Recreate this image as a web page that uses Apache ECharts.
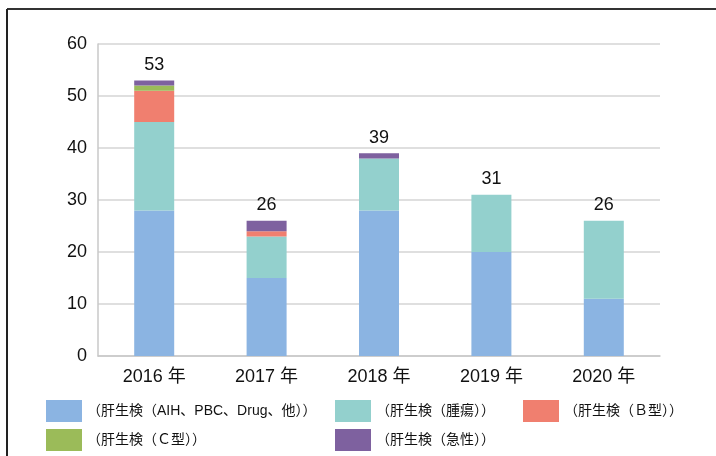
<!DOCTYPE html>
<html>
<head>
<meta charset="utf-8">
<script src="https://cdn.jsdelivr.net/npm/echarts@6/dist/echarts.min.js"></script>
<style>html,body{margin:0;padding:0;background:#fff}#c{width:716px;height:456px}</style>
</head>
<body>
<div id="c"></div>
<script>
const categories = ['2016 年', '2017 年', '2018 年', '2019 年', '2020 年'];
const seriesNames = ['（肝生検（AIH、PBC、Drug、他））', '（肝生検（腫瘍））', '（肝生検（Ｂ型））', '（肝生検（Ｃ型））', '（肝生検（急性））'];
const aihValues = [28, 15, 28, 20, 11];
const tumorValues = [17, 8, 10, 11, 15];
const hbvValues = [6, 1, 0, 0, 0];
const hcvValues = [1, 0, 0, 0, 0];
const acuteValues = [1, 2, 1, 0, 0];
const yTicks = [0, 10, 20, 30, 40, 50, 60];
const colors = ['#8BB4E2', '#93D0CD', '#F07F6F', '#9BBB59', '#7E619F'];

const allValues = [aihValues, tumorValues, hbvValues, hcvValues, acuteValues];
const totals = categories.map((_, i) => allValues.reduce((s, arr) => s + arr[i], 0));

const FONT = '"Liberation Sans", "Noto Sans CJK JP", sans-serif';
const chart = echarts.init(document.getElementById('c'));

const series = allValues.map((vals, k) => ({
  name: seriesNames[k],
  type: 'bar',
  stack: 'total',
  barWidth: 40,
  itemStyle: { color: colors[k] },
  data: vals
}));
series.push({
  name: 'total',
  type: 'scatter',
  data: totals,
  symbolSize: 1,
  itemStyle: { color: 'rgba(0,0,0,0)' },
  label: { show: true, position: 'top', distance: 6, fontSize: 18, color: '#111', fontFamily: FONT, opacity: 1 },
  silent: true,
  z: 10
});

function legendAt(left, names) {
  return {
    orient: 'vertical',
    left: left,
    top: 400,
    padding: 0,
    height: 56,
    itemWidth: 36,
    itemHeight: 22,
    itemGap: 7,
    icon: 'rect',
    selectedMode: false,
    textStyle: { fontSize: 14, color: '#111', fontFamily: FONT },
    data: names
  };
}

chart.setOption({
  animation: false,
  grid: { left: 98, right: 56, top: 44, bottom: 100 },
  xAxis: {
    type: 'category',
    data: categories,
    axisTick: { show: false },
    axisLine: { lineStyle: { color: '#c8c8c8', width: 1.5 } },
    axisLabel: { fontSize: 18, color: '#111', fontFamily: FONT, margin: 12 }
  },
  yAxis: {
    type: 'value',
    min: yTicks[0],
    max: yTicks[yTicks.length - 1],
    interval: 10,
    axisLine: { show: true, lineStyle: { color: '#c8c8c8', width: 1.5 } },
    axisTick: { show: false },
    splitLine: { lineStyle: { color: '#d4d4d4', width: 1.5 } },
    axisLabel: { fontSize: 18, color: '#111', fontFamily: FONT, margin: 11 }
  },
  legend: [
    legendAt(46, [seriesNames[0], seriesNames[3]]),
    legendAt(335, [seriesNames[1], seriesNames[4]]),
    legendAt(523, [seriesNames[2]])
  ],
  graphic: [
    { type: 'line', shape: { x1: 7, y1: 9, x2: 716, y2: 9 }, style: { stroke: '#333', lineWidth: 2 } },
    { type: 'line', shape: { x1: 7, y1: 9, x2: 7, y2: 456 }, style: { stroke: '#222', lineWidth: 2 } }
  ],
  series: series
});
</script>
</body>
</html>
